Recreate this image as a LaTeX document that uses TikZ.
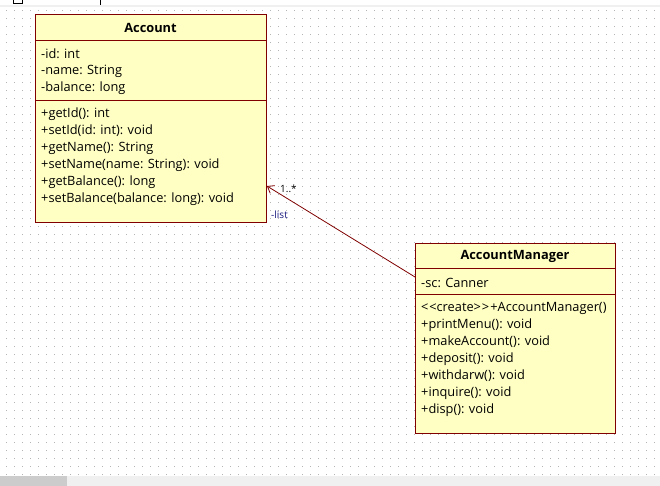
\documentclass[tikz,border=0pt]{standalone}
\usepackage{fontspec}
\setmainfont{Open Sans}
\usetikzlibrary{arrows.meta}
\definecolor{umlborder}{HTML}{800000}
\definecolor{umlfill}{HTML}{FFFFC4}
\definecolor{griddot}{HTML}{B4B4B4}
\definecolor{rolelabel}{HTML}{1A1A80}
\newcommand{\guil}[1]{<\kern0.8pt<#1>\kern0.8pt>\kern1.2pt}
\tikzset{
  classbox/.style={draw=umlborder, fill=umlfill, line width=0.9pt, inner sep=0pt, anchor=north west},
  divider/.style={draw=umlborder, line width=0.9pt},
  member/.style={anchor=west, inner sep=0pt, font=\fontsize{12.8}{14}\selectfont},
  classname/.style={inner sep=0pt, font=\fontsize{12.8}{14}\selectfont\bfseries},
  assoc/.style={draw=umlborder, line width=0.8pt, -{Straight Barb[length=6pt,width=9pt,line width=0.8pt]}},
  mult/.style={anchor=west, inner sep=0pt, font=\fontsize{10}{11}\selectfont},
}
\begin{document}
\begin{tikzpicture}[x=1pt, y=-1pt]
  % canvas
  \useasboundingbox (0,0) rectangle (660,486);
  \fill[white] (0,0) rectangle (660,486);
  % dotted grid
  \foreach \gx in {6,14,...,654} {
    \foreach \gy in {10,18,...,474} {
      \fill[griddot] (\gx,\gy) rectangle ++(1,1);
    }
  }
  % editor tab strip
  \fill[black!6] (0,5) rectangle (660,7);
  \draw[black, line width=0.6pt] (13,-1) rectangle (22,3);
  \draw[black, line width=0.6pt] (100,0) -- (100,5);
  % horizontal scroll bar
  \fill[black!6] (0,476) rectangle (660,486);
  \fill[black!20] (0,476) rectangle (67,486);

  % class Account
  \node[classbox, minimum width=231pt, minimum height=208pt] (acc) at (35,14) {};
  \draw[divider] (35,40) -- (266,40);
  \draw[divider] (35,100) -- (266,100);
  \node[classname] (accname) at (150.5,28) {Account};
  \node[member] (acca1) at (41,54) {-id: int};
  \node[member] (acca2) at (41,71) {-name: String};
  \node[member] (acca3) at (41,88) {-balance: long};
  \node[member] (accm1) at (41,114) {+getId(): int};
  \node[member] (accm2) at (41,131) {+setId(id: int): void};
  \node[member] (accm3) at (41,148) {+getName(): String};
  \node[member] (accm4) at (41,165) {+setName(name: String): void};
  \node[member] (accm5) at (41,182) {+getBalance(): long};
  \node[member] (accm6) at (41,199) {+setBalance(balance: long): void};

  % class AccountManager
  \node[classbox, minimum width=200pt, minimum height=190pt] (mgr) at (415,243) {};
  \draw[divider] (415,268) -- (615,268);
  \draw[divider] (415,294) -- (615,294);
  \node[classname] (mgrname) at (515,256.5) {AccountManager};
  \node[member] (mgra1) at (421,283) {-sc: Canner};
  \node[member] (mgrm1) at (421,308) {\guil{create}+AccountManager()};
  \node[member] (mgrm2) at (421,325) {+printMenu(): void};
  \node[member] (mgrm3) at (421,342) {+makeAccount(): void};
  \node[member] (mgrm4) at (421,359) {+deposit(): void};
  \node[member] (mgrm5) at (421,376) {+withdarw(): void};
  \node[member] (mgrm6) at (421,393) {+inquire(): void};
  \node[member] (mgrm7) at (421,410) {+disp(): void};

  % association AccountManager -> Account
  \coordinate (mgrend) at (mgr.north west |- 0,277);
  \coordinate (accend) at (acc.north east |- 0,186);
  \draw[assoc] (mgrend) -- (accend);
  \node[mult] (multlbl) at (280,189) {1..*};
  \node[mult, text=rolelabel] (rolelbl) at (271,215) {-list};
\end{tikzpicture}
\end{document}
